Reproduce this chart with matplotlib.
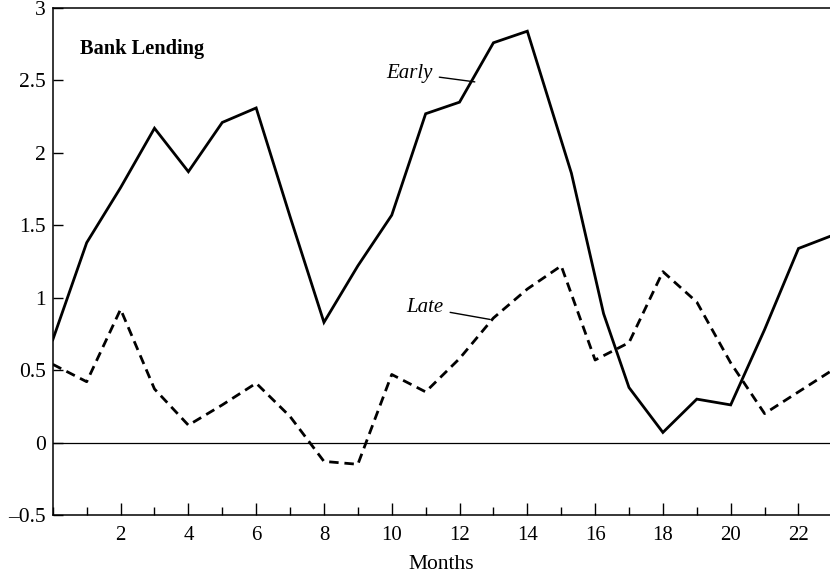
import matplotlib
matplotlib.use('Agg')
import matplotlib.pyplot as plt
from matplotlib.ticker import MultipleLocator

plt.rcParams['font.family'] = ['Liberation Serif', 'DejaVu Serif']

# Early responders (months since shock)
early_months = [0, 1, 2, 3, 4, 5, 6, 7, 8, 9, 10, 11, 12, 13, 14, 15.3, 16.25,
                17, 18, 19, 20, 21, 22, 23]
early_values = [0.71, 1.38, 1.76, 2.17, 1.87, 2.21, 2.31, 1.56, 0.83, 1.22,
                1.57, 2.27, 2.35, 2.76, 2.84, 1.86, 0.89,
                0.38, 0.07, 0.30, 0.26, 0.78, 1.34, 1.43]

# Late responders
late_months = [0, 1, 2, 3, 4, 5, 6, 7, 8, 9, 10, 11, 12, 13, 14, 15, 16,
               17, 18, 19, 20, 21, 22, 23]
late_values = [0.54, 0.42, 0.92, 0.37, 0.12, 0.26, 0.41, 0.18, -0.13, -0.15,
               0.47, 0.35, 0.58, 0.86, 1.06, 1.22, 0.57,
               0.69, 1.18, 0.97, 0.55, 0.20, 0.35, 0.50]

y_ticks = [-0.5, 0, 0.5, 1, 1.5, 2, 2.5, 3]
y_tick_labels = ['\u20130.5', '0', '0.5', '1', '1.5', '2', '2.5', '3']
x_ticks = [2, 4, 6, 8, 10, 12, 14, 16, 18, 20, 22]

title = 'Bank Lending'
x_label = 'Months'

fig = plt.figure(figsize=(8.3, 5.75), dpi=100)
ax = fig.add_axes([52.8 / 830, 60 / 575, 1 - 52.8 / 830, 507 / 575])

ax.plot(early_months, early_values, color='black', lw=2.0,
        solid_joinstyle='miter')
ax.plot(late_months, late_values, color='black', lw=2.0,
        linestyle=(0, (3.4, 2.1)))
ax.axhline(0, color='black', lw=0.9)

ax.set_xlim(0, 22.93)
ax.set_ylim(-0.5, 3)

ax.set_xticks(x_ticks)
ax.set_xticklabels([str(t) for t in x_ticks])
ax.xaxis.set_minor_locator(MultipleLocator(1))
ax.set_yticks(y_ticks)
ax.set_yticklabels(y_tick_labels)

ax.tick_params(axis='x', which='major', direction='in', length=9, width=1,
               pad=8, labelsize=15)
ax.tick_params(axis='x', which='minor', direction='in', length=6, width=1)
ax.tick_params(axis='y', direction='in', length=7.5, width=1, pad=5,
               labelsize=15.5)

for side in ['left', 'bottom', 'top']:
    ax.spines[side].set_linewidth(1.1)
ax.spines['right'].set_visible(False)

ax.set_xlabel(x_label, fontsize=15.5, labelpad=7)

ax.text(0.8, 2.72, title, fontsize=14.7, fontweight='bold',
        va='center', ha='left')

ax.annotate('Early', xy=(12.45, 2.49), xytext=(11.2, 2.55),
            fontsize=15, style='italic', ha='right', va='center',
            arrowprops=dict(arrowstyle='-', color='black', lw=1,
                            shrinkA=3, shrinkB=0))
ax.annotate('Late', xy=(12.9, 0.85), xytext=(11.52, 0.93),
            fontsize=15, style='italic', ha='right', va='center',
            arrowprops=dict(arrowstyle='-', color='black', lw=1,
                            shrinkA=3, shrinkB=0))

plt.savefig('out.png', dpi=100)
plt.close()
